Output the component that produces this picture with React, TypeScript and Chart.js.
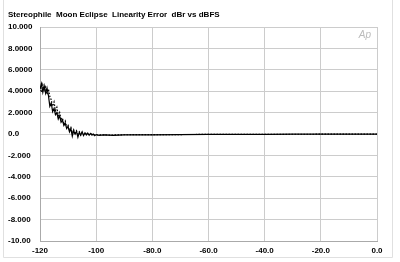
import React, { useEffect, useRef } from "react";
import { Chart, registerables } from "chart.js";

Chart.register(...registerables);

const titleText = "Stereophile  Moon Eclipse  Linearity Error  dBr vs dBFS";

const xTickValues = [-120, -100, -80, -60, -40, -20, 0];
const xTickLabels = ["-120", "-100", "-80.0", "-60.0", "-40.0", "-20.0", "0.0"];
const yTickValues = [10, 8, 6, 4, 2, 0, -2, -4, -6, -8, -10];
const yTickLabels = ["10.000", "8.0000", "6.0000", "4.0000", "2.0000", "0.0", "-2.000", "-4.000", "-6.000", "-8.000", "-10.00"];

const solidX = [-120, -119.5, -119, -118.5, -118, -117.5, -117, -116.5, -116, -115.5, -115, -114.5, -114, -113.5, -113, -112.5, -112, -111.5, -111, -110.5, -110, -109.5, -109, -108.5, -108, -107.5, -107, -106.5, -106, -105.5, -105, -104.5, -104, -103.5, -103, -102.5, -102, -101.5, -101, -100.5, -100, -99, -97, -94, -90, -85, -80, -70, -60, -50, -40, -30, -20, -10, 0];
const solidY = [4.2, 4.7, 3.9, 4.5, 3.8, 4.3, 3.6, 2.6, 2.9, 2.1, 2.4, 1.8, 2.0, 1.4, 1.7, 1.1, 1.3, 0.8, 1.0, 0.5, 0.7, 0.2, 0.5, -0.2, 0.3, 0.0, 0.25, -0.3, 0.15, -0.1, 0.2, -0.15, 0.1, -0.1, 0.08, -0.12, 0.05, -0.1, 0.0, -0.15, -0.05, -0.12, -0.08, -0.12, -0.09, -0.07, -0.08, -0.05, -0.04, -0.03, -0.03, -0.02, -0.02, -0.02, -0.02];

const dottedX = [-120, -119.5, -119, -118.5, -118, -117.5, -117, -116.5, -116, -115.5, -115, -114.5, -114, -113.5, -113, -112.5, -112, -111.5, -111, -110.5, -110, -109.5, -109, -108.5, -108, -107.5, -107, -106.5, -106, -105.5, -105, -104.5, -104, -103, -102, -101, -100, -98, -95, -90, -80, -60, -40, -20, 0];
const dottedY = [4.4, 3.9, 4.6, 4.1, 4.4, 3.7, 4.2, 3.5, 3.2, 2.6, 3.0, 2.2, 2.5, 1.7, 2.0, 1.3, 1.5, 0.9, 1.2, 0.6, 0.8, 0.3, 0.6, 0.1, 0.4, -0.05, 0.3, 0.0, 0.2, -0.1, 0.15, -0.05, 0.1, -0.05, 0.02, -0.08, -0.1, -0.08, -0.1, -0.07, -0.06, -0.04, -0.03, -0.02, -0.02];

const FONT = "'Liberation Sans', Arial, sans-serif";

const decorPlugin = {
  id: "decor",
  beforeDraw(chart: any) {
    const ctx = chart.ctx;
    ctx.save();
    ctx.fillStyle = "#ffffff";
    ctx.fillRect(0, 0, chart.width, chart.height);
    ctx.strokeStyle = "#e0e0e0";
    ctx.lineWidth = 1;
    ctx.beginPath();
    ctx.moveTo(392.5, 0);
    ctx.lineTo(392.5, 257.5);
    ctx.lineTo(3.5, 257.5);
    ctx.lineTo(3.5, 0);
    ctx.stroke();
    ctx.restore();
  },
  afterDraw(chart: any) {
    const ctx = chart.ctx;
    ctx.save();
    ctx.fillStyle = "#000000";
    ctx.font = `bold 8px ${FONT}`;
    ctx.textAlign = "left";
    ctx.textBaseline = "middle";
    ctx.fillText(titleText, 8, 14.5);
    ctx.fillStyle = "#bbbbbb";
    ctx.font = `italic 10px ${FONT}`;
    ctx.textAlign = "right";
    ctx.fillText("Ap", 371, 35);
    ctx.restore();
  },
};

export default function App() {
  const ref = useRef<HTMLCanvasElement>(null);
  useEffect(() => {
    document.body.style.margin = "0";
    const canvas = ref.current!;
    const chart = new Chart(canvas, {
      type: "line",
      data: {
        datasets: [
          {
            data: solidX.map((x, i) => ({ x, y: solidY[i] })),
            borderColor: "#000000",
            borderWidth: 1.2,
            pointRadius: 0,
            tension: 0,
          },
          {
            data: dottedX.map((x, i) => ({ x, y: dottedY[i] })),
            borderColor: "#000000",
            borderWidth: 1.2,
            borderDash: [1.5, 1.5],
            pointRadius: 0,
            tension: 0,
          },
        ],
      },
      options: {
        responsive: false,
        animation: false,
        layout: { padding: { left: 8, right: 23, top: 27, bottom: 5 } },
        plugins: { legend: { display: false }, title: { display: false }, tooltip: { enabled: false } },
        scales: {
          x: {
            type: "linear",
            min: -120,
            max: 0,
            afterBuildTicks: (s: any) => {
              s.ticks = xTickValues.map((v) => ({ value: v }));
            },
            afterFit: (s: any) => {
              s.height = 16;
            },
            ticks: {
              maxRotation: 0,
              autoSkip: false,
              padding: 5,
              color: "#000000",
              font: { family: FONT, size: 8, weight: "bold" },
              callback: (v: any) => {
                const i = xTickValues.indexOf(Number(v));
                return i >= 0 ? xTickLabels[i] : "";
              },
            },
            grid: { color: "#cccccc", drawTicks: false, lineWidth: 1 },
            border: { color: "#aaaaaa" },
          },
          y: {
            type: "linear",
            min: -10,
            max: 10,
            afterBuildTicks: (s: any) => {
              s.ticks = yTickValues.map((v) => ({ value: v }));
            },
            afterFit: (s: any) => {
              s.width = 32;
            },
            ticks: {
              autoSkip: false,
              crossAlign: "far",
              color: "#000000",
              font: { family: FONT, size: 8, weight: "bold" },
              callback: (v: any) => {
                const i = yTickValues.indexOf(Number(v));
                return i >= 0 ? yTickLabels[i] : "";
              },
            },
            grid: { color: "#cccccc", drawTicks: false, lineWidth: 1 },
            border: { color: "#aaaaaa" },
          },
        },
      },
      plugins: [decorPlugin],
    });
    return () => chart.destroy();
  }, []);
  return <canvas ref={ref} width={400} height={262} style={{ display: "block" }} />;
}
